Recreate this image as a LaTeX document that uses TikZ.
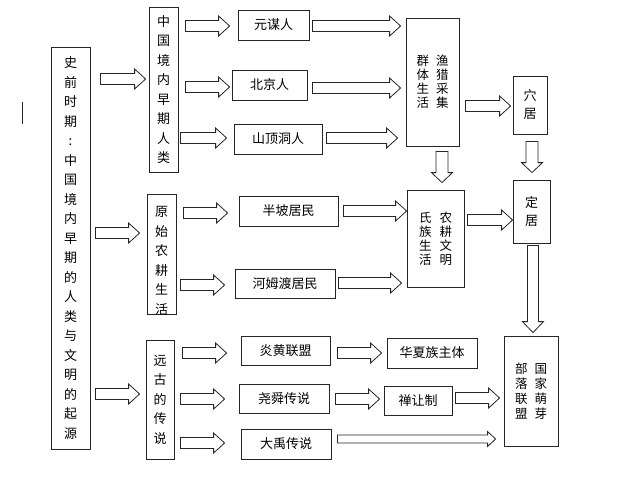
\documentclass[tikz,border=0pt]{standalone}
\usepackage{fontspec}
\setmainfont{Noto Sans CJK SC}
\usetikzlibrary{calc}
\newcommand\SH{5.5pt}
\newcommand\HH{10pt}
\newcommand\HL{11pt}
% right-pointing block arrow: x from #1, x of tip from #2, y from #3
\newcommand\rarr[3]{\draw[blk] let \p1=(#1),\p2=(#2),\p3=(#3) in (\x1,\y3+\SH) -- (\x2-\HL,\y3+\SH) -- (\x2-\HL,\y3+\HH) -- (\x2,\y3) -- (\x2-\HL,\y3-\HH) -- (\x2-\HL,\y3-\SH) -- (\x1,\y3-\SH) -- cycle;}
% down-pointing block arrow: y from #1, y of tip from #2, x from #3
\newcommand\darr[3]{\draw[blk] let \p1=(#1),\p2=(#2),\p3=(#3) in (\x3-\SH,\y1) -- (\x3-\SH,\y2+\HL) -- (\x3-\HH,\y2+\HL) -- (\x3,\y2) -- (\x3+\HH,\y2+\HL) -- (\x3+\SH,\y2+\HL) -- (\x3+\SH,\y1) -- cycle;}
\begin{document}
\begin{tikzpicture}[x=1pt,y=-1pt,
  box/.style={draw=black!85, line width=0.8pt, inner sep=0pt, text=black, align=center},
  hbox/.style={box, font=\fontsize{13}{15}\selectfont},
  vbox/.style={box, font=\fontsize{13}{19.5}\selectfont},
  wbox/.style={box, font=\fontsize{12.5}{14}\selectfont},
  blk/.style={draw=black!85, fill=white, line width=0.8pt, line join=miter}]
\useasboundingbox (0,0) rectangle (640,483);
\fill[white] (0,0) rectangle (640,483);
\draw[line width=1.4pt, black!85] (22.5,102) -- (22.5,124);

% left column
\node[vbox, minimum width=39pt, minimum height=402pt] (shiqian) at (70.5,248) {史\\前\\时\\期\\:\\中\\国\\境\\内\\早\\期\\的\\人\\类\\与\\文\\明\\的\\起\\源};

% second column
\node[vbox, minimum width=29pt, minimum height=165pt] (zg) at (163.5,89.5) {中\\国\\境\\内\\早\\期\\人\\类};
\node[box, minimum width=29pt, minimum height=120pt] (ys) at (161.5,254) {};
\begin{scope}
\clip (ys.north west) rectangle (ys.south east);
\node[vbox, draw=none] (ystext) at (161.5,261) {原\\始\\农\\耕\\生\\活};
\end{scope}
\node[vbox, minimum width=28pt, minimum height=119pt] (yg) at (160,399.5) {远\\古\\的\\传\\说};

% third column
\node[hbox, minimum width=71pt, minimum height=30pt] (ym) at (273.5,25) {元谋人};
\node[hbox, minimum width=75pt, minimum height=30pt] (bj) at (269.5,85) {北京人};
\node[hbox, minimum width=88pt, minimum height=30pt] (sd) at (278,139) {山顶洞人};
\node[hbox, minimum width=99pt, minimum height=30pt] (bp) at (288.5,211) {半坡居民};
\node[hbox, minimum width=100pt, minimum height=29pt] (hm) at (285,283.5) {河姆渡居民};
\node[hbox, minimum width=89pt, minimum height=29pt] (yh) at (285.5,350.5) {炎黄联盟};
\node[hbox, minimum width=90pt, minimum height=29pt] (ysh) at (284,398.5) {尧舜传说};
\node[hbox, minimum width=90pt, minimum height=30pt] (dy) at (286,444) {大禹传说};

% fourth column
\node[wbox, minimum width=53pt, minimum height=128pt] (yl) at (432.5,82) {群\hspace{7pt}渔\\体\hspace{7pt}猎\\生\hspace{7pt}采\\活\hspace{7pt}集};
\node[wbox, minimum width=57pt, minimum height=97pt] (ng) at (435.5,238.5) {氏\hspace{8pt}农\\族\hspace{8pt}耕\\生\hspace{8pt}文\\活\hspace{8pt}明};
\node[hbox, minimum width=90pt, minimum height=30pt] (hx) at (432,353) {华夏族主体};
\node[hbox, minimum width=68pt, minimum height=29pt] (cr) at (418,400.5) {禅让制};

% fifth column
\node[vbox, font=\fontsize{13}{18}\selectfont, minimum width=34pt, minimum height=58pt] (xj) at (530,105) {穴\\居};
\node[vbox, font=\fontsize{13}{18}\selectfont, minimum width=37pt, minimum height=63pt] (dj) at (531.5,211.5) {定\\居};
\node[wbox, font=\fontsize{12.5}{15}\selectfont, minimum width=54pt, minimum height=110pt] (bl) at (531,391) {部\hspace{7pt}国\\落\hspace{7pt}家\\联\hspace{7pt}萌\\盟\hspace{7pt}芽};

% arrows
\rarr{[xshift=10pt]shiqian.east}{[xshift=-3pt]zg.west}{0,79}
\rarr{[xshift=5pt]shiqian.east}{[xshift=-7pt]ys.west}{0,233}
\rarr{[xshift=5pt]shiqian.east}{[xshift=-6pt]yg.west}{0,394}
\rarr{[xshift=7pt]zg.east}{[xshift=-8pt]ym.west}{0,26}
\rarr{[xshift=7pt]zg.east}{[xshift=-2pt]bj.west}{0,87}
\rarr{[xshift=2pt]zg.east}{[xshift=-7pt]sd.west}{0,138}
\rarr{[xshift=7pt]ys.east}{[xshift=-11pt]bp.west}{0,213}
\rarr{[xshift=4pt]ys.east}{[xshift=-10pt]hm.west}{0,285}
\rarr{[xshift=8pt]yg.east}{[xshift=-14pt]yh.west}{0,353}
\rarr{[xshift=6pt]yg.east}{[xshift=-14pt]ysh.west}{0,399}
\rarr{[xshift=6pt]yg.east}{[xshift=-16pt]dy.west}{0,443}
\rarr{[xshift=3pt]ym.east}{[xshift=-5pt]yl.west}{0,26}
\rarr{[xshift=5pt]bj.east}{[xshift=-5pt]yl.west}{0,88}
\rarr{[xshift=4pt]sd.east}{[xshift=-8pt]yl.west}{0,138}
\rarr{[xshift=5pt]bp.east}{ng.west}{0,211}
\rarr{[xshift=3pt]hm.east}{[xshift=-5pt]ng.west}{0,283}
\rarr{[xshift=6pt]yl.east}{[xshift=-2pt]xj.west}{0,106}
\rarr{[xshift=3pt]ng.east}{dj.west}{0,220}
\rarr{[xshift=7pt]yh.east}{[xshift=-5pt]hx.west}{0,353}
\rarr{[xshift=6pt]ysh.east}{[xshift=-4pt]cr.west}{0,399}
\rarr{[xshift=3pt]cr.east}{[xshift=-4pt]bl.west}{0,398}
{\renewcommand\SH{4pt}\renewcommand\HH{7.5pt}\renewcommand\HL{8pt}
\rarr{[xshift=6pt]dy.east}{[xshift=-8pt]bl.west}{0,439}}
{\renewcommand\SH{6pt}\renewcommand\HH{10.5pt}\renewcommand\HL{10pt}
\darr{[yshift=-5pt]yl.south}{[yshift=7pt]ng.north}{442,0}
\darr{[yshift=-7pt]xj.south}{[yshift=7pt]dj.north}{532,0}}
{\renewcommand\SH{5.5pt}\renewcommand\HH{10.5pt}\renewcommand\HL{11pt}
\darr{[yshift=-2pt]dj.south}{[yshift=3pt]bl.north}{533,0}}
\end{tikzpicture}
\end{document}
